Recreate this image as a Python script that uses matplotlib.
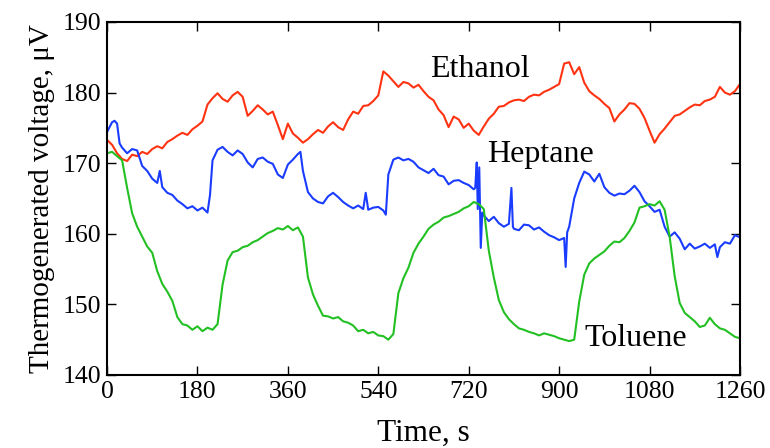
import numpy as np
import matplotlib.pyplot as plt

plt.rcParams['font.family'] = ['Liberation Serif', 'DejaVu Serif']

# Ethanol, sampled every 10 s
eth_t = np.arange(0, 1261, 10)
eth_v = [173.3, 172.6, 171.4, 170.6, 170.3, 171.2, 171.0, 171.6, 171.3, 172.0,
         172.4, 172.1, 173.0, 173.4, 173.9, 174.3, 174.0, 174.8, 175.3, 175.9,
         178.3, 179.2, 179.9, 179.1, 178.7, 179.6, 180.1, 179.4, 176.7, 177.4,
         178.2, 177.6, 176.9, 177.3, 175.4, 173.4, 175.6, 174.2, 173.6, 172.9,
         173.4, 174.1, 174.7, 174.3, 175.2, 175.8, 175.1, 174.7, 176.2, 177.3,
         177.0, 178.1, 178.2, 178.8, 179.6, 183.0, 182.4, 181.6, 180.8, 181.5,
         181.3, 180.7, 181.1, 180.2, 179.4, 178.9, 177.6, 176.8, 175.1, 176.6,
         176.2, 175.0, 175.6, 174.6, 174.0, 175.2, 176.3, 177.0, 178.0, 178.1,
         178.6, 178.9, 179.0, 178.8, 179.4, 179.7, 179.6, 180.1, 180.4, 180.8,
         181.2, 184.1, 184.3, 182.6, 183.6, 181.4, 180.2, 179.6, 179.1, 178.4,
         177.8, 175.9, 176.9, 177.6, 178.5, 178.4, 177.7, 176.4, 174.6, 172.9,
         174.1, 174.9, 175.8, 176.7, 176.9, 177.4, 177.9, 178.3, 178.2, 178.8,
         179.0, 179.4, 180.8, 180.0, 179.7, 180.2, 181.2]

# Heptane (extra samples around the spikes)
hep_t = [0, 10, 15, 20, 25, 30, 40, 50, 60, 70, 80, 90, 100, 105, 110, 120, 130,
         140, 150, 160, 170, 180, 190, 200, 205, 210, 220, 230, 240, 250, 260,
         270, 280, 290, 300, 310, 320, 330, 340, 350, 360, 370, 380, 385, 390,
         400, 410, 420, 430, 440, 450, 460, 470, 480, 490, 500, 510, 515, 520,
         530, 540, 550, 555, 560, 570, 580, 590, 600, 610, 620, 630, 640, 650,
         660, 670, 680, 690, 700, 710, 720, 730, 733, 736, 738, 741, 744, 747,
         750, 760, 770, 780, 790, 800, 805, 808, 810, 820, 830, 840, 850, 860,
         870, 880, 890, 900, 910, 913, 916, 920, 930, 940, 950, 960, 970, 980,
         990, 1000, 1010, 1020, 1030, 1040, 1050, 1060, 1070, 1080, 1090, 1100,
         1110, 1120, 1130, 1140, 1150, 1160, 1170, 1180, 1190, 1200, 1210, 1215,
         1220, 1230, 1240, 1250, 1260]
hep_v = [174.4, 175.8, 176.0, 175.6, 172.8, 172.2, 171.4, 172.0, 171.8, 169.6,
         168.9, 167.8, 167.2, 168.9, 166.6, 165.8, 165.5, 164.7, 164.2, 163.6,
         163.9, 163.3, 163.7, 163.0, 165.5, 170.4, 171.9, 172.3, 171.6, 171.1,
         171.8, 171.3, 170.1, 169.4, 170.6, 170.8, 170.2, 169.9, 168.4, 167.9,
         169.8, 170.5, 171.3, 171.6, 168.9, 165.9, 165.0, 164.5, 164.3, 165.3,
         165.8, 165.2, 164.5, 164.0, 163.6, 164.0, 163.5, 165.8, 163.4, 163.7,
         163.8, 163.3, 162.7, 168.4, 170.5, 170.8, 170.4, 170.6, 170.2, 169.4,
         169.0, 168.6, 169.2, 168.3, 168.1, 167.0, 167.5, 167.6, 167.2, 166.9,
         166.3, 166.5, 170.1, 163.5, 169.4, 158.0, 163.0, 162.6, 161.8, 162.4,
         161.5, 161.0, 161.4, 166.5, 161.0, 160.7, 160.5, 161.3, 161.2, 160.6,
         160.9, 160.3, 159.8, 159.5, 159.1, 159.4, 155.3, 160.2, 161.0, 165.0,
         167.2, 168.8, 168.4, 167.4, 168.5, 166.6, 165.8, 165.4, 165.7, 165.6,
         166.1, 166.8, 165.9, 164.6, 163.9, 163.1, 163.4, 161.0, 159.6, 160.2,
         159.3, 157.8, 158.6, 157.9, 158.2, 158.6, 158.0, 158.5, 156.7, 158.1,
         158.8, 158.6, 159.8, 159.5]

# Toluene, sampled every 10 s
tol_t = np.arange(0, 1261, 10)
tol_v = [171.4, 171.6, 171.0, 170.4, 166.5, 162.9, 161.0, 159.6, 158.2, 157.3,
         154.7, 152.9, 151.8, 150.5, 148.2, 147.2, 147.0, 146.4, 146.9, 146.2,
         146.7, 146.4, 147.2, 152.8, 156.2, 157.4, 157.6, 158.1, 158.3, 158.8,
         159.1, 159.6, 160.1, 160.4, 160.8, 160.6, 161.1, 160.5, 160.9, 159.6,
         153.8, 151.4, 149.8, 148.4, 148.3, 148.0, 148.2, 147.6, 147.4, 147.0,
         146.2, 146.4, 145.9, 146.1, 145.6, 145.5, 145.0, 145.8, 151.6, 153.7,
         155.2, 157.3, 158.6, 159.6, 160.7, 161.3, 161.7, 162.3, 162.5, 162.8,
         163.1, 163.6, 163.9, 164.5, 164.2, 163.5, 157.6, 153.8, 150.6, 148.9,
         147.9, 147.2, 146.6, 146.4, 146.1, 145.9, 145.6, 145.9, 145.7, 145.5,
         145.2, 145.0, 144.8, 145.0, 150.4, 154.2, 155.8, 156.5, 157.0, 157.5,
         158.3, 158.9, 158.8, 159.4, 160.4, 161.6, 163.7, 163.9, 164.2, 164.0,
         164.6, 163.4, 159.6, 154.0, 150.2, 148.8, 148.2, 147.6, 146.8, 147.0,
         148.1, 147.2, 146.6, 146.4, 145.9, 145.4, 145.2]

fig = plt.figure(figsize=(7.7, 4.48), dpi=100)
ax = fig.add_axes([0.139, 0.163, 0.822, 0.788])

ax.plot(eth_t, eth_v, color='#ff3311', lw=1.5)
ax.plot(hep_t, hep_v, color='#1a3cff', lw=1.5)
ax.plot(tol_t, tol_v, color='#22c022', lw=1.5)

ax.text(643, 183.2, 'Ethanol', fontsize=23, va='center', ha='left')
ax.text(756, 171.2, 'Heptane', fontsize=23, va='center', ha='left')
ax.text(951, 145.2, 'Toluene', fontsize=23, va='center', ha='left')

ax.set_xlim(0, 1260)
ax.set_ylim(140, 190)
ax.set_xticks(np.arange(0, 1261, 180))
ax.set_yticks(np.arange(140, 191, 10))
ax.tick_params(direction='in', top=True, right=True, length=6.5, width=1,
               labelsize=18.5, pad=4)
for s in ax.spines.values():
    s.set_linewidth(1.5)

ax.set_xlabel('Time, s', fontsize=22.5, labelpad=12)
ax.set_ylabel('Thermogenerated voltage, μV', fontsize=21, labelpad=6)

fig.savefig('out.png', dpi=100)
